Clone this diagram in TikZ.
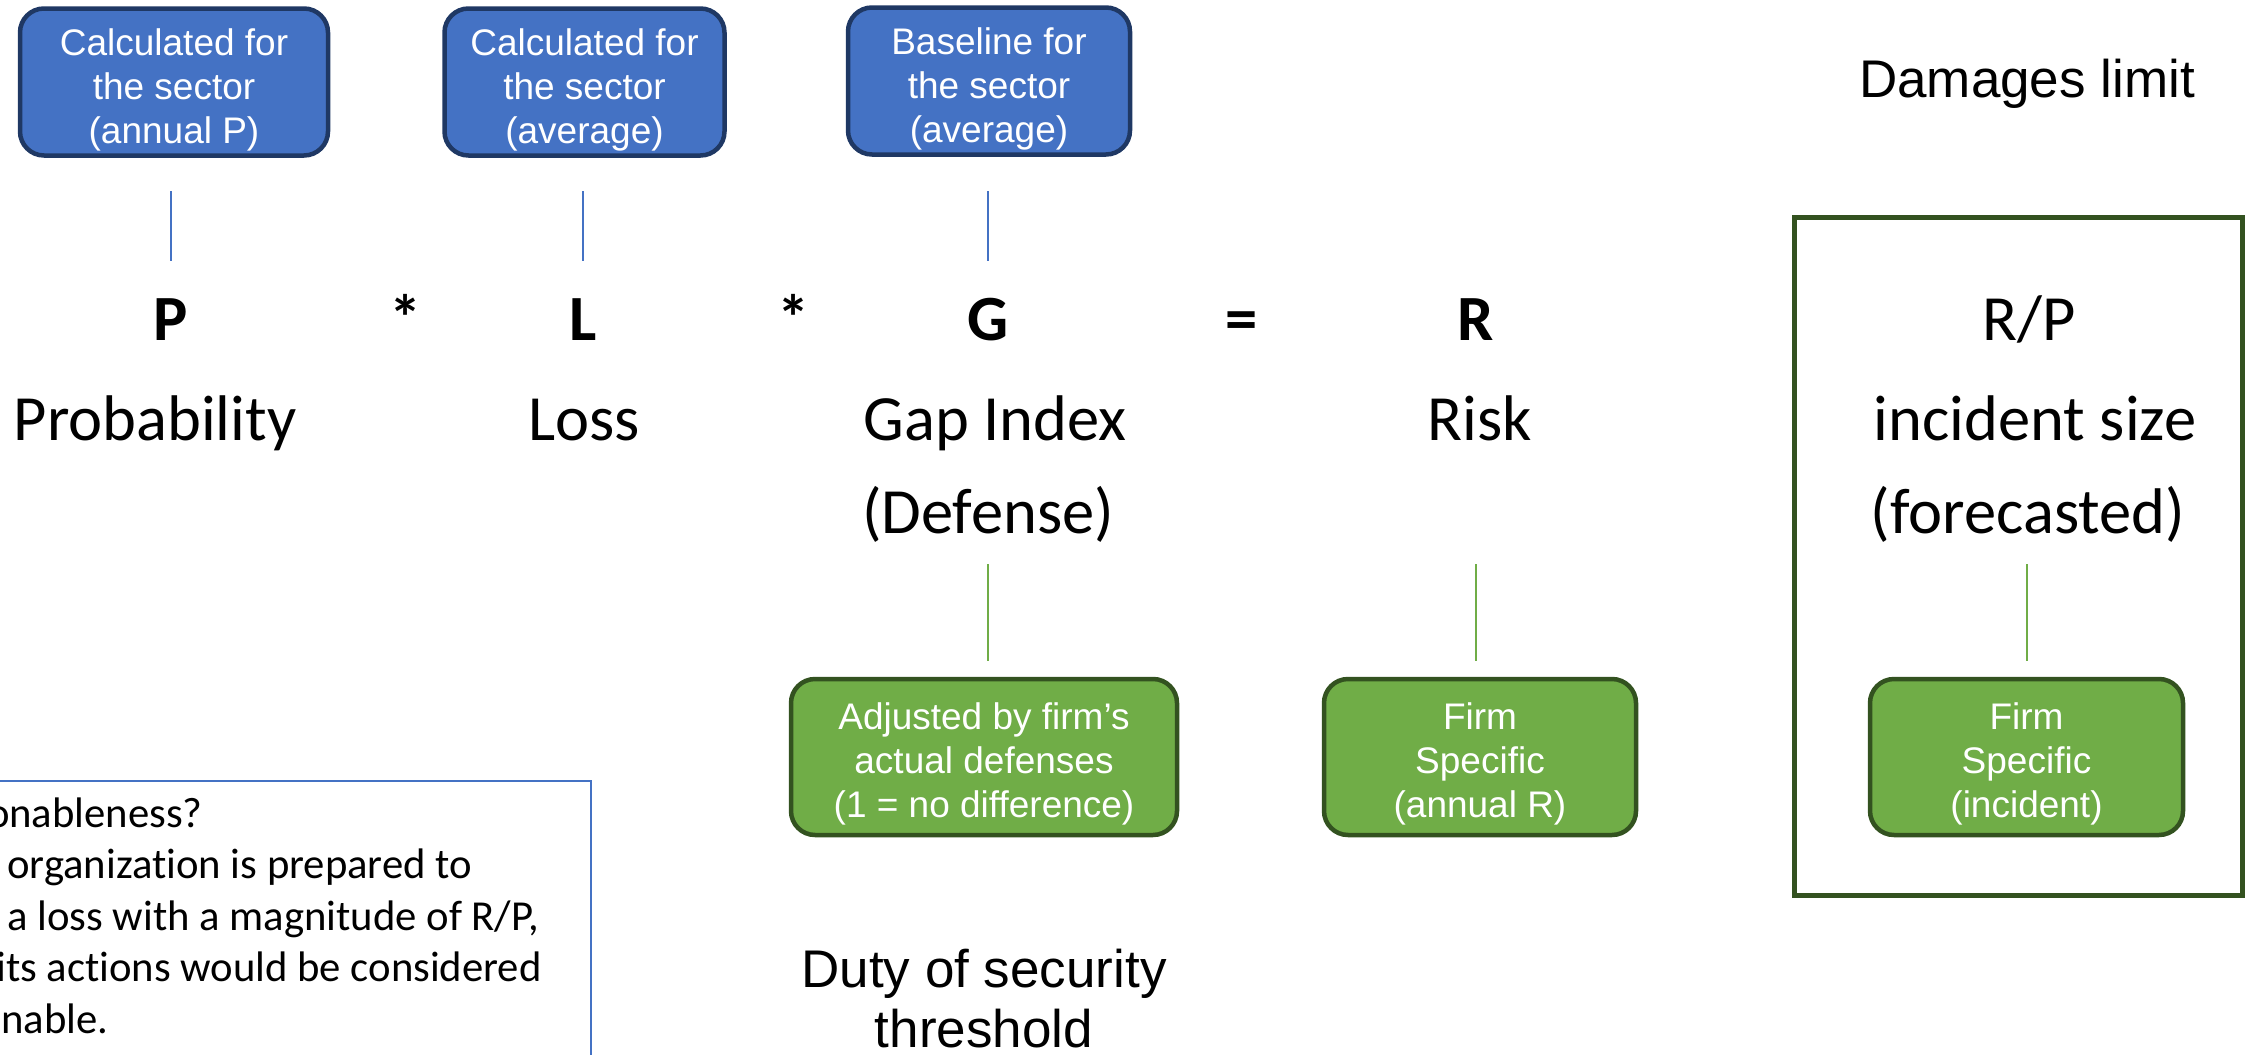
\documentclass[tikz,border=0pt]{standalone}
\usepackage{fontspec}
\setmainfont{Carlito}[Ligatures=NoCommon]
\newfontfamily\arialf{Liberation Sans}
\definecolor{boxblue}{HTML}{4472C4}
\definecolor{boxblueedge}{HTML}{1F3864}
\definecolor{boxgreen}{HTML}{70AD47}
\definecolor{boxgreenedge}{HTML}{335220}
\newcommand{\bluestrut}{\rule{0pt}{43pt}}
\newcommand{\greenstrut}{\rule{0pt}{40pt}}
\begin{document}
\begin{tikzpicture}[x=1pt,y=-1pt,
  sbox/.style={rounded corners=24pt, line width=4.5pt, align=center, text=white,
    font=\arialf\fontsize{37}{44}\selectfont, inner sep=0pt},
  bluebox/.style={sbox, fill=boxblue, draw=boxblueedge, minimum height=147pt},
  greenbox/.style={sbox, fill=boxgreen, draw=boxgreenedge, minimum height=156pt},
  lab/.style={font=\fontsize{64.5}{80}\selectfont, anchor=base, inner sep=0pt},
  blab/.style={font=\bfseries\fontsize{64.5}{80}\selectfont, anchor=base, inner sep=0pt},
  arlab/.style={font=\arialf\fontsize{53}{60}\selectfont, anchor=base, inner sep=0pt},
  notelab/.style={font=\fontsize{42.7}{51.5}\selectfont, anchor=base west, inner sep=0pt},
  bconn/.style={draw=boxblue, line width=2pt},
  gconn/.style={draw=boxgreen, line width=2pt}]
\useasboundingbox (0,0) rectangle (2252,1055);
\clip (0,0) rectangle (2252,1055);

% connector end levels
\coordinate (btop) at (0,191);
\coordinate (bbot) at (0,261);
\coordinate (gtop) at (0,564);
\coordinate (gbot) at (0,661);

% blue boxes
\node[bluebox, minimum width=308pt] (b1) at (174,82) {\bluestrut Calculated for\\the sector\\(annual P)};
\node[bluebox, minimum width=280pt] (b2) at (584.5,82) {\bluestrut Calculated for\\the sector\\(average)};
\node[bluebox, minimum width=282pt] (b3) at (989,81) {\bluestrut Baseline for\\the sector\\(average)};

% formula row
\node[blab] (P) at (171,340) {P};
\node[blab] (m1) at (406,340) {*};
\node[blab] (L) at (583,340) {L};
\node[blab] (m2) at (794,340) {*};
\node[blab] (G) at (988,340) {G};
\node[blab] (eq) at (1242,340) {=};
\node[blab] (R) at (1476,340) {R};
\node[lab] (RP) at (2029,340) {R/P};

\node[lab] (prob) at (155,440) {Probability};
\node[lab] (loss) at (584,440) {Loss};
\node[lab] (gap) at (995,440) {Gap Index};
\node[lab] (risk) at (1480,440) {Risk};
\node[lab] (isize) at (2035,440) {incident size};
\node[lab] (def) at (988,533) {(Defense)};
\node[lab] (fore) at (2028,533) {(forecasted)};

% blue connectors
\draw[bconn] (P |- btop) -- (P |- bbot);
\draw[bconn] (L |- btop) -- (L |- bbot);
\draw[bconn] (G |- btop) -- (G |- bbot);

% green boxes
\node[greenbox, minimum width=386pt] (gG) at (984,757) {\greenstrut Adjusted by firm’s\\actual defenses\\(1 = no difference)};
\node[greenbox, minimum width=312pt] (gR) at (1480,757) {\greenstrut Firm\\Specific\\(annual R)};
\node[greenbox, minimum width=313pt] (gI) at (2026.5,757) {\greenstrut Firm\\Specific\\(incident)};

% green connectors
\draw[gconn] (G |- gtop) -- (G |- gbot);
\draw[gconn] (R |- gtop) -- (R |- gbot);
\draw[gconn] (gI.north |- gtop) -- (gI.north |- gbot);

% damages frame
\node[draw=boxgreenedge, line width=5pt, minimum width=448pt, minimum height=678pt, inner sep=0pt] (frame) at (2018.5,556.5) {};
\node[arlab] (dmg) at (2027,97) {Damages limit};

% duty of security
\node[arlab] (duty1) at (984,987) {Duty of security};
\node[arlab] (duty2) at (984,1047) {threshold};

% note box
\node[draw=boxblue, line width=2pt, minimum width=632pt, minimum height=320pt, anchor=north east, inner sep=0pt] (note) at (592,780) {};
\node[notelab] (n1) at (-94,827) {Reasonableness?};
\node[notelab] (n2) at (-94,878.5) {If the organization is prepared to};
\node[notelab] (n3) at (-90,930) {incur a loss with a magnitude of R/P,};
\node[notelab] (n4) at (-94,981.5) {then its actions would be considered};
\node[notelab] (n5) at (-94,1033) {reasonable.};
\end{tikzpicture}
\end{document}
